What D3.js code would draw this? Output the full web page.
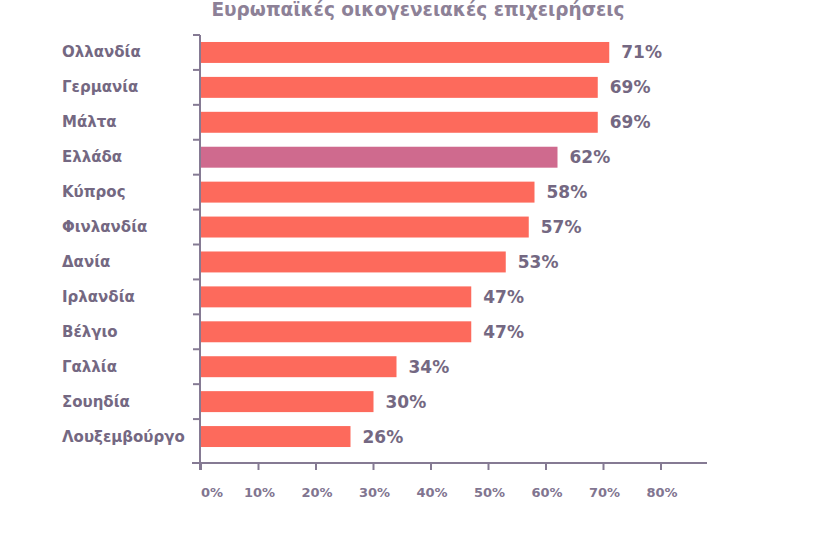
<!DOCTYPE html>
<html><head><meta charset="utf-8">
<script src="https://cdn.jsdelivr.net/npm/d3@7"></script>
<style>body{margin:0;background:#fff;} svg{display:block;}</style>
</head><body>
<script>
const title = "Ευρωπαϊκές οικογενειακές επιχειρήσεις";
const countries = ["Ολλανδία","Γερμανία","Μάλτα","Ελλάδα","Κύπρος","Φινλανδία","Δανία","Ιρλανδία","Βέλγιο","Γαλλία","Σουηδία","Λουξεμβούργο"];
const values = [71,69,69,62,58,57,53,47,47,34,30,26];
const highlight = ["Ελλάδα"];
const xTicks = [0,10,20,30,40,50,60,70,80];

const W = 832, H = 544;
const textColor = "#746882";
const axisColor = "#857a93";
const barColor = "#fd6a5c";
const hiColor = "#cf6a8e";
const font = "'DejaVu Sans', sans-serif";

const svg = d3.select("body").append("svg").attr("width", W).attr("height", H);

const x = d3.scaleLinear().domain([0, 80]).range([201, 661]);
const y = d3.scaleBand().domain(countries).range([35, 454]).paddingInner(0.4).paddingOuter(0.2);
const yb = d3.scaleBand().domain(countries).range([35, 454]);

// title
svg.append("text").attr("x", 418).attr("y", 16).attr("text-anchor", "middle")
  .attr("font-family", font).attr("font-weight", 700).attr("font-size", 18.5)
  .attr("fill", "#8d8197").text(title);

// bars
svg.selectAll("rect.bar").data(countries).join("rect").attr("class","bar")
  .attr("x", x(0)).attr("y", d => y(d))
  .attr("width", (d,i) => x(values[i]) - x(0)).attr("height", y.bandwidth())
  .attr("fill", d => highlight.includes(d) ? hiColor : barColor);

// value labels
svg.selectAll("text.val").data(countries).join("text").attr("class","val")
  .attr("x", (d,i) => x(values[i]) + 12).attr("y", d => y(d) + y.bandwidth()/2 + 6)
  .attr("font-family", font).attr("font-weight", 700).attr("font-size", 17)
  .attr("fill", textColor).text((d,i) => values[i] + "%");

// category labels
svg.selectAll("text.cat").data(countries).join("text").attr("class","cat")
  .attr("x", 62).attr("y", d => yb(d) + yb.bandwidth()/2 + 5)
  .attr("font-family", font).attr("font-weight", 700).attr("font-size", 15)
  .attr("fill", textColor).text(d => d);

// y axis line and ticks
svg.append("line").attr("x1", 200).attr("x2", 200).attr("y1", 35).attr("y2", 470)
  .attr("stroke", axisColor).attr("stroke-width", 2);
svg.selectAll("line.yt").data(countries).join("line").attr("class","yt")
  .attr("x1", 193).attr("x2", 200).attr("y1", d => yb(d)).attr("y2", d => yb(d))
  .attr("stroke", axisColor).attr("stroke-width", 2);

// x axis
const axisY = 463;
svg.append("line").attr("x1", 192).attr("x2", 707).attr("y1", axisY).attr("y2", axisY)
  .attr("stroke", axisColor).attr("stroke-width", 2);
svg.selectAll("line.xt").data(xTicks).join("line").attr("class","xt")
  .attr("x1", d => x(d)).attr("x2", d => x(d)).attr("y1", axisY).attr("y2", axisY + 7)
  .attr("stroke", axisColor).attr("stroke-width", 2);
svg.selectAll("text.xl").data(xTicks).join("text").attr("class","xl")
  .attr("x", d => x(d) + (d === 0 ? 11 : 1)).attr("y", 497).attr("text-anchor","middle")
  .attr("font-family", font).attr("font-weight", 700).attr("font-size", 13)
  .attr("fill", "#817590").text(d => d + "%");
</script>
</body></html>
